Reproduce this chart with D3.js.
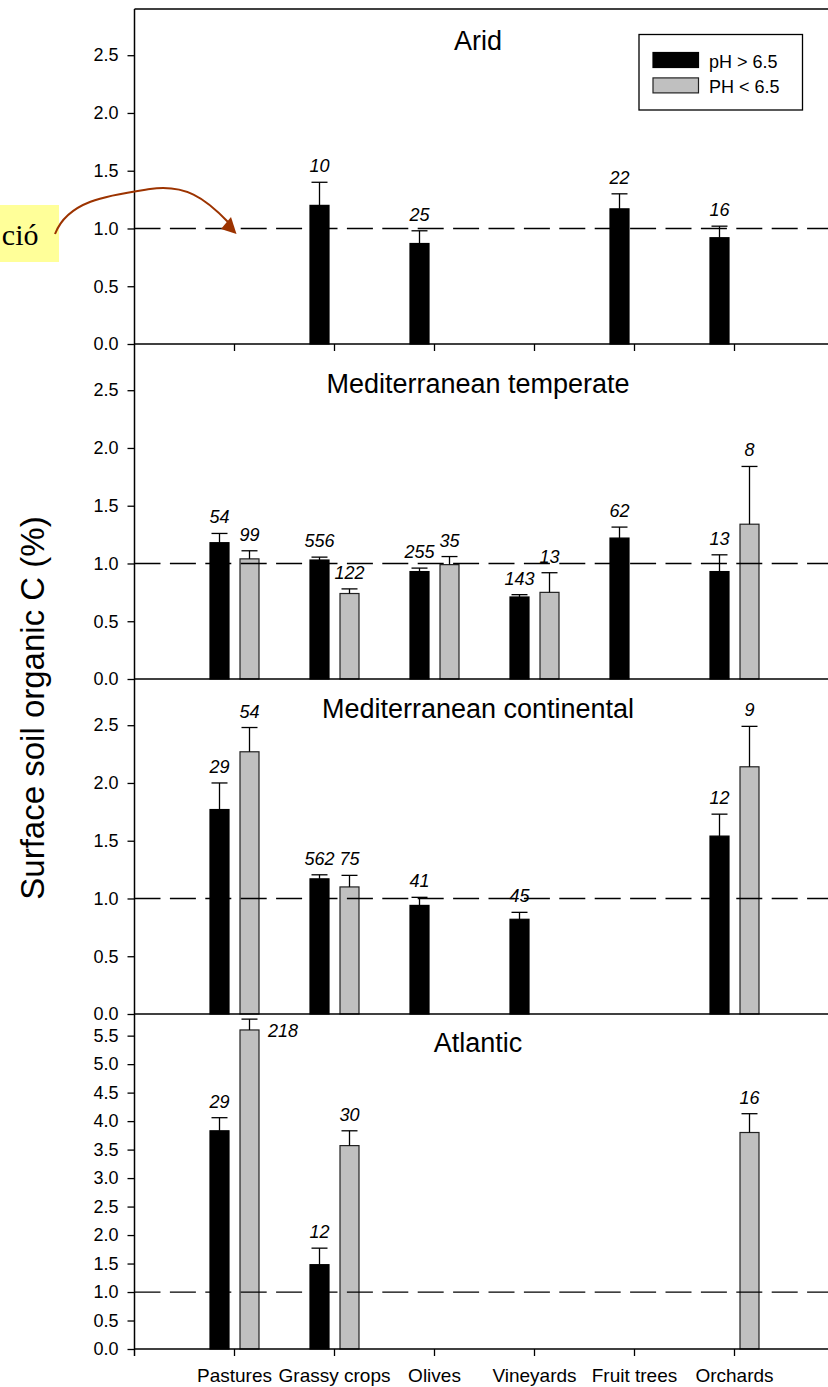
<!DOCTYPE html>
<html>
<head>
<meta charset="utf-8">
<script src="https://cdn.jsdelivr.net/npm/d3@7/dist/d3.min.js"></script>
<style>
  body { margin: 0; background: #fff; }
  text { font-family: "Liberation Sans", Arial, sans-serif; }
</style>
</head>
<body>
<div id="chart"></div>
<script>
// land uses on the x axis, soil pH groups, climate regions (one panel each)
var categories = ["Pastures", "Grassy crops", "Olives", "Vineyards", "Fruit trees", "Orchards"];
var series = ["pH > 6.5", "PH < 6.5"];
var regions = ["Arid", "Mediterranean temperate", "Mediterranean continental", "Atlantic"];
var regionMax = [2.9, 2.9, 2.9, 5.88];
var regionTickMax = [2.5, 2.5, 2.5, 5.5];

// mean organic C (%), upper error (SE) and number of samples; null = no data
var aridHigh = [null, 1.20, 0.87, null, 1.17, 0.92];
var aridHighErr = [null, 0.20, 0.11, null, 0.13, 0.10];
var aridHighN = [null, 10, 25, null, 22, 16];
var aridLow = [null, null, null, null, null, null];
var aridLowErr = [null, null, null, null, null, null];
var aridLowN = [null, null, null, null, null, null];

var medTempHigh = [1.18, 1.03, 0.93, 0.71, 1.22, 0.93];
var medTempHighErr = [0.08, 0.025, 0.03, 0.02, 0.095, 0.145];
var medTempHighN = [54, 556, 255, 143, 62, 13];
var medTempLow = [1.04, 0.74, 0.99, 0.75, null, 1.34];
var medTempLowErr = [0.07, 0.04, 0.07, 0.17, null, 0.50];
var medTempLowN = [99, 122, 35, 13, null, 8];

var medContHigh = [1.77, 1.17, 0.94, 0.82, null, 1.54];
var medContHighErr = [0.23, 0.035, 0.07, 0.06, null, 0.19];
var medContHighN = [29, 562, 41, 45, null, 12];
var medContLow = [2.27, 1.10, null, null, null, 2.14];
var medContLowErr = [0.21, 0.10, null, null, null, 0.35];
var medContLowN = [54, 75, null, null, null, 9];

var atlHigh = [3.83, 1.48, null, null, null, null];
var atlHighErr = [0.23, 0.29, null, null, null, null];
var atlHighN = [29, 12, null, null, null, null];
var atlLow = [5.60, 3.57, null, null, null, 3.80];
var atlLowErr = [0.19, 0.26, null, null, null, 0.33];
var atlLowN = [218, 30, null, null, null, 16];

var panelData = [
  [[aridHigh, aridHighErr, aridHighN], [aridLow, aridLowErr, aridLowN]],
  [[medTempHigh, medTempHighErr, medTempHighN], [medTempLow, medTempLowErr, medTempLowN]],
  [[medContHigh, medContHighErr, medContHighN], [medContLow, medContLowErr, medContLowN]],
  [[atlHigh, atlHighErr, atlHighN], [atlLow, atlLowErr, atlLowN]]
];

// layout
var W = 828, H = 1387;
var left = 134.5, right = 834, top0 = 9, panelH = 335;
var titleDy = [41, 49, 39, 38];
var fills = ["#000000", "#c0c0c0"];
var strokes = ["#000000", "#222222"];

var svg = d3.select("#chart").append("svg")
    .attr("width", W)
    .attr("height", H);

var x = d3.scaleBand()
    .domain(categories)
    .range([left + 50, left + 650]);

var x1 = d3.scaleBand()
    .domain(series)
    .range([-24.5, 24.5])
    .paddingInner(11 / 30);

function cx(cat, s) {
  return x(cat) + x.bandwidth() / 2 + x1(s) + x1.bandwidth() / 2;
}

regions.forEach(function(region, p) {
  var top = top0 + p * panelH;
  var g = svg.append("g").attr("transform", "translate(0," + top + ")");

  var y = d3.scaleLinear()
      .domain([0, regionMax[p]])
      .range([panelH, 0]);

  // rows for this panel
  var rows = [];
  series.forEach(function(s, si) {
    var set = panelData[p][si];
    categories.forEach(function(c, ci) {
      if (set[0][ci] != null) {
        rows.push({cat: c, s: s, si: si, mean: set[0][ci], err: set[1][ci], n: set[2][ci]});
      }
    });
  });

  // bars
  g.selectAll("rect.bar")
    .data(rows)
    .enter().append("rect")
      .attr("class", "bar")
      .attr("x", function(d) { return cx(d.cat, d.s) - x1.bandwidth() / 2; })
      .attr("width", x1.bandwidth())
      .attr("y", function(d) { return y(d.mean); })
      .attr("height", function(d) { return y(0) - y(d.mean); })
      .attr("fill", function(d) { return fills[d.si]; })
      .attr("stroke", function(d) { return strokes[d.si]; })
      .attr("stroke-width", 1.2);

  // error bars (upper only)
  var eb = g.selectAll("g.err")
    .data(rows)
    .enter().append("g")
      .attr("class", "err")
      .attr("stroke", "#000")
      .attr("stroke-width", 1.3);
  eb.append("line")
      .attr("x1", function(d) { return cx(d.cat, d.s); })
      .attr("x2", function(d) { return cx(d.cat, d.s); })
      .attr("y1", function(d) { return y(d.mean); })
      .attr("y2", function(d) { return y(d.mean + d.err); });
  eb.append("line")
      .attr("x1", function(d) { return cx(d.cat, d.s) - 8; })
      .attr("x2", function(d) { return cx(d.cat, d.s) + 8; })
      .attr("y1", function(d) { return y(d.mean + d.err); })
      .attr("y2", function(d) { return y(d.mean + d.err); });

  // reference line at 1 %
  g.append("line")
      .attr("x1", left)
      .attr("x2", right)
      .attr("y1", y(1))
      .attr("y2", y(1))
      .attr("stroke", "#000")
      .attr("stroke-width", 1.3)
      .attr("stroke-dasharray", "26,9.4");

  // sample sizes
  g.selectAll("text.n")
    .data(rows)
    .enter().append("text")
      .attr("class", "n")
      .style("font-size", "18px")
      .style("font-style", "italic")
      .each(function(d) {
        var capY = y(d.mean + d.err);
        var t = d3.select(this);
        if (capY - 24 < 0) {
          // no room above: put it beside the bar
          t.attr("x", cx(d.cat, d.s) + x1.bandwidth() / 2 + 9)
            .attr("y", capY + 18)
            .attr("text-anchor", "start");
        } else {
          t.attr("x", cx(d.cat, d.s))
            .attr("y", capY - 10)
            .attr("text-anchor", "middle");
        }
      })
      .text(function(d) { return d.n; });

  // left axis
  var ticks = d3.range(0, regionTickMax[p] + 0.01, 0.5);
  var ya = g.append("g")
      .attr("transform", "translate(" + left + ",0)")
      .call(d3.axisLeft(y).tickValues(ticks).tickFormat(d3.format(".1f")).tickSize(7).tickPadding(9));
  ya.select(".domain").remove();
  ya.selectAll("line").attr("stroke-width", 1.3);
  ya.selectAll("text").style("font-size", "18px").attr("fill", "#000")
      .style("font-family", "'Liberation Sans', Arial, sans-serif");

  // panel top border
  g.append("line")
      .attr("x1", left).attr("x2", right)
      .attr("y1", 0).attr("y2", 0)
      .attr("stroke", "#000").attr("stroke-width", 1.5);

  // panel title
  g.append("text")
      .attr("x", 478)
      .attr("y", titleDy[p])
      .attr("text-anchor", "middle")
      .style("font-size", "27px")
      .text(region);

  // x ticks on first and last panel
  if (p === 0 || p === regions.length - 1) {
    var xa = g.append("g")
        .attr("transform", "translate(0," + panelH + ")")
        .call(d3.axisBottom(x).tickSize(7).tickFormat(p === 0 ? "" : function(d) { return d; }));
    xa.select(".domain").remove();
    xa.selectAll("line").attr("stroke-width", 1.3);
    xa.selectAll("text")
        .attr("y", 33).attr("dy", 0)
        .attr("fill", "#000")
        .style("font-size", "19px")
        .style("font-family", "'Liberation Sans', Arial, sans-serif");
  }
});

// bottom border and left axis line
var bottom = top0 + regions.length * panelH;
svg.append("line")
    .attr("x1", left).attr("x2", right)
    .attr("y1", bottom).attr("y2", bottom)
    .attr("stroke", "#000").attr("stroke-width", 1.5);
svg.append("line")
    .attr("x1", left).attr("x2", left)
    .attr("y1", top0).attr("y2", bottom + 7)
    .attr("stroke", "#000").attr("stroke-width", 1.5);

// y label
svg.append("text")
    .attr("transform", "translate(44," + 708 + ") rotate(-90)")
    .attr("text-anchor", "middle")
    .style("font-size", "33px")
    .text("Surface soil organic C (%)");

// legend
var legend = svg.append("g").attr("transform", "translate(639,34.5)");
legend.append("rect")
    .attr("width", 163.5).attr("height", 75.5)
    .attr("fill", "#fff").attr("stroke", "#000").attr("stroke-width", 1.3);
series.forEach(function(s, i) {
  legend.append("rect")
      .attr("x", 14).attr("y", 18 + i * 25.4)
      .attr("width", 45.5).attr("height", 15)
      .attr("fill", fills[i]).attr("stroke", strokes[i]).attr("stroke-width", 1.2);
  legend.append("text")
      .attr("x", 70).attr("y", 33 + i * 25)
      .style("font-size", "18px")
      .text(s);
});

// pasted annotation (cut off at the left edge)
svg.append("rect")
    .attr("x", 0).attr("y", 205)
    .attr("width", 59).attr("height", 57)
    .attr("fill", "#ffff99");
svg.append("text")
    .attr("x", 38.5).attr("y", 245)
    .attr("text-anchor", "end")
    .style("font-family", "'Liberation Serif', 'Times New Roman', serif")
    .style("font-size", "30px")
    .text("ció");
svg.append("path")
    .attr("d", "M55,234 C68,200 110,195 150,189 C185,184 205,198 228,222")
    .attr("fill", "none")
    .attr("stroke", "#9c3300")
    .attr("stroke-width", 2);
svg.append("path")
    .attr("d", "M221,229 L231,217 L236.5,234 Z")
    .attr("fill", "#9c3300");
</script>
</body>
</html>
